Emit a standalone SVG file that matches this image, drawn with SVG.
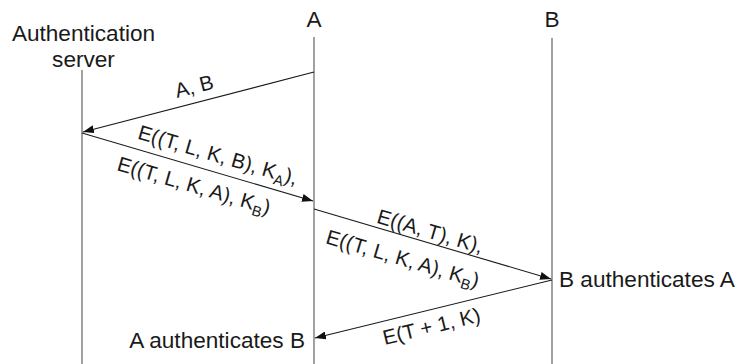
<svg xmlns="http://www.w3.org/2000/svg" width="738" height="364" viewBox="0 0 738 364">
<defs>
<marker id="ah" markerUnits="userSpaceOnUse" markerWidth="11" markerHeight="8" refX="11" refY="4" orient="auto">
<path d="M0,0 L11,4 L0,8 z" fill="#111"/>
</marker>
<style>
text{font-family:"Liberation Sans",Arial,sans-serif;fill:#1a1a1a}
.n{font-size:22.6px}
.m{font-size:20.6px}
.life{stroke:#8a8a8a;stroke-width:1.6;fill:none}
.msg{stroke:#1a1a1a;stroke-width:1.1;fill:none;marker-end:url(#ah)}
</style>
</defs>
<rect width="738" height="364" fill="#fff"/>
<g id="server">
<text class="n" x="83.5" y="41" text-anchor="middle">Authentication</text>
<text class="n" x="83.5" y="67" text-anchor="middle">server</text>
<line class="life" x1="82" y1="70" x2="82" y2="364"/>
</g>
<g id="A">
<text class="n" x="314" y="27" text-anchor="middle">A</text>
<line class="life" x1="314" y1="37" x2="314" y2="364"/>
<text class="n" x="305" y="348" text-anchor="end">A authenticates B</text>
</g>
<g id="B">
<text class="n" x="552" y="27" text-anchor="middle">B</text>
<line class="life" x1="552" y1="38" x2="552" y2="364"/>
<text class="n" x="559" y="287">B authenticates A</text>
</g>
<g id="connectors">
<line class="msg" x1="314" y1="72" x2="83" y2="132"/>
<line class="msg" x1="82" y1="133" x2="313" y2="201"/>
<line class="msg" x1="314" y1="209" x2="551" y2="279"/>
<line class="msg" x1="552" y1="280" x2="315" y2="338"/>
<g transform="translate(82,132) rotate(-14.5)">
<text class="m" x="120" y="-9" text-anchor="middle">A, B</text>
</g>
<g transform="translate(82,133) rotate(16.34)">
<text class="m" x="54" y="-10">E((T, L, K, B), K<tspan font-size="14.5" dy="5">A</tspan><tspan dy="-5">),</tspan></text>
<text class="m" x="43" y="26">E((T, L, K, A), K<tspan font-size="14.5" dy="5">B</tspan><tspan dy="-5">)</tspan></text>
</g>
<g transform="translate(314,209) rotate(16.39)">
<text class="m" x="63" y="-4.5">E((A, T), K),</text>
<text class="m" x="20" y="29.5">E((T, L, K, A), K<tspan font-size="14.5" dy="5">B</tspan><tspan dy="-5">)</tspan></text>
</g>
<g transform="translate(314,338) rotate(-13.7)">
<text class="m" x="67" y="23.5">E(T + 1, K)</text>
</g>
</g>
</svg>
